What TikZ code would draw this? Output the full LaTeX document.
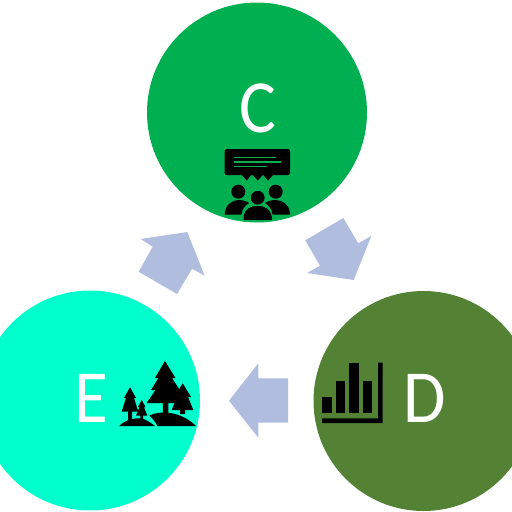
\documentclass[tikz,border=0pt]{standalone}
\usepackage{fontspec}
\setmainfont{Carlito}
\usepackage{tikz}
\definecolor{CycleGreen}{HTML}{00B050}
\definecolor{CycleMint}{HTML}{00FFCC}
\definecolor{CycleOlive}{HTML}{548235}
\definecolor{CycleArrow}{HTML}{B0BDDF}
\tikzset{
  stagecircle/.style={circle,inner sep=0pt,minimum size=220pt},
  stagelabel/.style={text=white,inner sep=0pt,xscale=0.92,transform shape,font=\fontsize{75}{75}\selectfont},
  flowarrow/.style={fill=CycleArrow},
  icon/.style={fill=black},
}
\begin{document}
\begin{tikzpicture}[x=1pt,y=-1pt]
  \useasboundingbox (0,0) rectangle (512,512);
  \clip (0,0) rectangle (512,512);
  \node[stagecircle,fill=CycleGreen] (stageC) at (257,112.5) {};
  \node[stagecircle,fill=CycleMint] (stageE) at (90,400.5) {};
  \node[stagecircle,fill=CycleOlive] (stageD) at (423.5,401) {};
  \node[stagelabel] (labelC) at (258,108) {C};
  \node[stagelabel] (labelE) at (91.5,398) {E};
  \node[stagelabel] (labelD) at (425,398) {D};
  % arrows
  \fill[flowarrow] (140.7,239) -- (187.3,232) -- (204.7,275.7) -- (192,268.7) -- (177,294) -- (138.7,271.7) -- (152.7,246.7) -- cycle;
  \fill[flowarrow] (343.3,218) -- (358.3,243.3) -- (371.3,236) -- (353.7,280) -- (307,273) -- (320,265.7) -- (305.3,240.3) -- cycle;
  \fill[flowarrow] (288,378.3) -- (258.3,378.3) -- (258.3,363.3) -- (229,400.7) -- (258.3,437.7) -- (258.3,422.7) -- (288,422.7) -- cycle;
  % meeting icon
  \fill[icon,rounded corners=2pt] (224.7,149) rectangle (290,175);
  \fill[icon] (241.5,174.5) -- (246.7,180.5) -- (251.5,174.5) -- cycle;
  \fill[icon] (252.5,174.5) -- (257.7,180.5) -- (263,174.5) -- cycle;
  \fill[icon] (263,174.5) -- (268,180.5) -- (273.5,174.5) -- cycle;
  \draw[CycleGreen,line width=1.2pt] (234,157.3) -- (275.7,157.3) (234,162) -- (281,162) (234,166.7) -- (266.7,166.7);
  \fill[icon] (238.3,191.7) circle (7);
  \fill[icon] (275.7,191.7) circle (7);
  \fill[icon] (224.7,214.5) .. controls (225,205) and (232,200) .. (238.3,200) .. controls (242,200) and (246,201) .. (249,203) .. controls (244,206) and (242,210) .. (241.5,214.5) -- cycle;
  \fill[icon] (290,214.5) .. controls (290,205) and (282,200) .. (275.7,200) .. controls (272,200) and (268,201) .. (265,203) .. controls (270,206) and (272,210) .. (272.5,214.5) -- cycle;
  \filldraw[icon,draw=CycleGreen,line width=1pt] (257.7,197.7) circle (7.5);
  \filldraw[icon,draw=CycleGreen,line width=1pt] (243,220.5) -- (243,216) .. controls (244,209) and (250,205.2) .. (257.7,205.2) .. controls (265,205.2) and (271,209) .. (272.4,216) -- (272.4,220.5) -- cycle;
  % chart icon
  \fill[icon] (322,396.7) rectangle (332.3,412.7);
  \fill[icon] (335.7,381.3) rectangle (345.3,412.7);
  \fill[icon] (349.3,362.7) rectangle (359,412.7);
  \fill[icon] (362.7,381.3) rectangle (372.3,412.7);
  \fill[icon] (378,362.7) -- (382.7,362.7) -- (382.7,423) -- (322,423) -- (322,418.3) -- (378,418.3) -- cycle;
  % forest icon
  \fill[icon] (119.3,426) .. controls (125,420) and (134,417.5) .. (142,418.5) .. controls (147,420) and (151,423) .. (155,426) -- cycle;
  \fill[icon] (157.5,426) .. controls (155,421) and (152,418) .. (149.3,415.5) .. controls (160,410.5) and (180,410.5) .. (196,426) -- cycle;
  \fill[icon] (165,361) -- (175.5,378) -- (172,378) -- (181,392) -- (177,392) -- (184,403) -- (168.3,403) -- (168.3,413) -- (162.8,413) -- (162.8,403) -- (146.7,403) -- (155.5,390) -- (151,390) -- (158.5,378) -- (155,378) -- cycle;
  \fill[icon] (182.7,383.3) -- (191,397) -- (188,397) -- (193.3,410) -- (185,410) -- (185,414) -- (180,414) -- (180,410) -- (171.7,410) -- (177,397) -- (174.5,397) -- cycle;
  \fill[icon] (130,387.3) -- (136,398) -- (134,398) -- (138.3,411.7) -- (132,411.7) -- (132,420) -- (128,420) -- (128,411.7) -- (121.7,411.7) -- (126,398) -- (124,398) -- cycle;
  \fill[icon] (141.7,400) -- (145.5,407) -- (144,407) -- (147.3,415.7) -- (143,415.7) -- (143,419) -- (140.3,419) -- (140.3,415.7) -- (136,415.7) -- (139.5,407) -- (138,407) -- cycle;
\end{tikzpicture}
\end{document}
